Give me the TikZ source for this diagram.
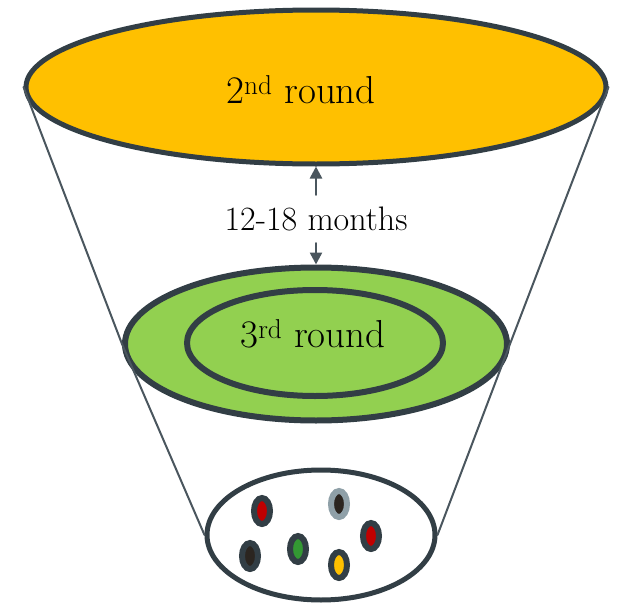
\documentclass[tikz,border=0pt]{standalone}
\usepackage{fontspec}
\usepackage{tikz}
\usetikzlibrary{arrows.meta,shapes.geometric}
\usepackage{xcolor}
\definecolor{rim}{HTML}{323E45}
\definecolor{funnel}{HTML}{4A565E}
\definecolor{gold}{HTML}{FFC000}
\definecolor{lime}{HTML}{92D050}
\definecolor{dred}{HTML}{C00000}
\definecolor{dgreen}{HTML}{339933}
\definecolor{coal}{HTML}{2B2520}
\definecolor{ash}{HTML}{8FA0A8}
\tikzset{
  ring/.style={ellipse,draw=rim,inner sep=0pt},
  dot/.style 2 args={ellipse,draw=#1,line width=6pt,fill=#2,inner sep=0pt,minimum width=16pt,minimum height=26pt}
}

\begin{document}
\begin{tikzpicture}[x=1pt,y=-1pt,>={Triangle[length=12pt,width=12pt]},line cap=round]
\useasboundingbox (0,0) rectangle (619,605);
\node[ring,fill=gold,line width=5pt,minimum width=580pt,minimum height=154pt] (top) at (316,87) {};
\node[ring,fill=lime,line width=6pt,minimum width=382pt,minimum height=153pt] (mid) at (316,344) {};
\node[ring,line width=6pt,minimum width=256pt,minimum height=106pt] (inner) at (315,343) {};
\node[ring,fill=white,line width=5pt,minimum width=228pt,minimum height=130pt] (bot) at (321,535) {};
\draw[funnel,line width=2pt] (top.west) -- (mid.west) -- (bot.west);
\draw[funnel,line width=2pt] (top.east) -- (mid.east) -- (bot.east);
\node[font=\fontsize{39}{44}\selectfont] (lbl2) at (301,90) {2\textsuperscript{nd} round};
\node[font=\fontsize{39}{44}\selectfont] (lbl3) at (313,334) {3\textsuperscript{rd} round};
\node[font=\fontsize{34}{40}\selectfont,inner xsep=3pt,inner ysep=12pt] (gap) at (316,219) {12-18 months};
\draw[->,funnel,line width=2.5pt] (gap.north) -- (gap.north |- top.south);
\draw[->,funnel,line width=2.5pt] (gap.south) -- (gap.south |- mid.north);
\node[dot={rim}{dred}] (d1) at (262,511) {};
\node[dot={ash}{coal}] (d2) at (339,504) {};
\node[dot={rim}{dred}] (d3) at (371,536) {};
\node[dot={rim}{coal}] (d4) at (250,556) {};
\node[dot={rim}{dgreen}] (d5) at (298,549) {};
\node[dot={rim}{gold}] (d6) at (339,565) {};
\end{tikzpicture}
\end{document}
